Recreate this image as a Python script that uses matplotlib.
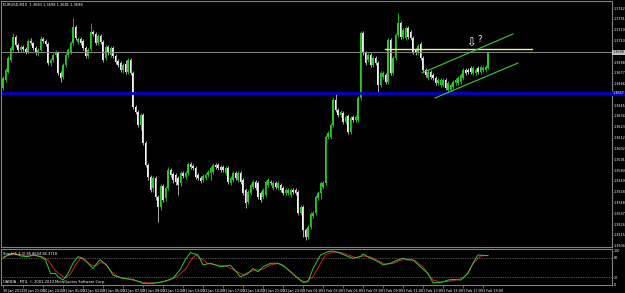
import matplotlib.pyplot as plt
import numpy as np

# EURUSD M15 candles, bar 0 = 30 Jan 2013 19:00
opens = [
    1.3662, 1.3670, 1.3678, 1.3690, 1.3700, 1.3713, 1.3705, 1.3700, 1.3703, 1.3701,
    1.3698, 1.3709, 1.3707, 1.3702, 1.3697, 1.3700, 1.3711, 1.3709, 1.3706, 1.3687,
    1.3690, 1.3695, 1.3697, 1.3677, 1.3673, 1.3685, 1.3695, 1.3698, 1.3707, 1.3723,
    1.3708, 1.3711, 1.3709, 1.3702, 1.3694, 1.3701, 1.3718, 1.3716, 1.3707, 1.3714,
    1.3708, 1.3692, 1.3703, 1.3695, 1.3702, 1.3694, 1.3689, 1.3687, 1.3680, 1.3686,
    1.3678, 1.3690, 1.3677, 1.3643, 1.3638, 1.3625, 1.3635, 1.3607, 1.3585, 1.3573,
    1.3562, 1.3572, 1.3553, 1.3543, 1.3564, 1.3552, 1.3562, 1.3580, 1.3576, 1.3575,
    1.3572, 1.3567, 1.3577, 1.3573, 1.3577, 1.3586, 1.3584, 1.3582, 1.3575, 1.3572,
    1.3570, 1.3572, 1.3575, 1.3577, 1.3578, 1.3585, 1.3585, 1.3583, 1.3583, 1.3577,
    1.3582, 1.3567, 1.3570, 1.3577, 1.3570, 1.3577, 1.3570, 1.3560, 1.3548, 1.3557,
    1.3563, 1.3568, 1.3567, 1.3557, 1.3553, 1.3555, 1.3565, 1.3568, 1.3562, 1.3567,
    1.3562, 1.3565, 1.3562, 1.3557, 1.3557, 1.3555, 1.3560, 1.3560, 1.3558, 1.3537,
    1.3543, 1.3520, 1.3513, 1.3523, 1.3534, 1.3537, 1.3552, 1.3557, 1.3563, 1.3567,
    1.3613, 1.3613, 1.3625, 1.3650, 1.3640, 1.3635, 1.3637, 1.3628, 1.3634, 1.3618,
    1.3633, 1.3630, 1.3630, 1.3652, 1.3717, 1.3697, 1.3690, 1.3695, 1.3685, 1.3692,
    1.3687, 1.3665, 1.3673, 1.3675, 1.3668, 1.3710, 1.3677, 1.3692, 1.3715, 1.3727,
    1.3713, 1.3712, 1.3722, 1.3718, 1.3712, 1.3700, 1.3697, 1.3706, 1.3692, 1.3680,
    1.3672, 1.3678, 1.3675, 1.3672, 1.3667, 1.3665, 1.3665, 1.3670, 1.3660, 1.3660,
    1.3663, 1.3667, 1.3667, 1.3668, 1.3672, 1.3680, 1.3680, 1.3682, 1.3677, 1.3677,
    1.3682, 1.3678, 1.3680, 1.3680, 1.3682,
]
highs = [
    1.3674, 1.3682, 1.3694, 1.3704, 1.3717, 1.3715, 1.3707, 1.3705, 1.3705, 1.3703,
    1.3711, 1.3712, 1.3708, 1.3704, 1.3702, 1.3714, 1.3713, 1.3711, 1.3708, 1.3692,
    1.3697, 1.3700, 1.3699, 1.3679, 1.3687, 1.3697, 1.3702, 1.3709, 1.3732, 1.3725,
    1.3713, 1.3713, 1.3711, 1.3704, 1.3702, 1.3727, 1.3720, 1.3718, 1.3716, 1.3716,
    1.3710, 1.3705, 1.3705, 1.3704, 1.3704, 1.3696, 1.3691, 1.3689, 1.3687, 1.3690,
    1.3692, 1.3692, 1.3679, 1.3645, 1.3640, 1.3637, 1.3637, 1.3609, 1.3587, 1.3575,
    1.3574, 1.3574, 1.3555, 1.3566, 1.3566, 1.3564, 1.3583, 1.3582, 1.3578, 1.3577,
    1.3574, 1.3579, 1.3579, 1.3579, 1.3588, 1.3588, 1.3586, 1.3584, 1.3577, 1.3574,
    1.3576, 1.3577, 1.3580, 1.3584, 1.3587, 1.3587, 1.3587, 1.3585, 1.3585, 1.3584,
    1.3584, 1.3574, 1.3579, 1.3579, 1.3579, 1.3579, 1.3572, 1.3562, 1.3560, 1.3567,
    1.3570, 1.3570, 1.3569, 1.3559, 1.3562, 1.3570, 1.3572, 1.3570, 1.3569, 1.3569,
    1.3569, 1.3567, 1.3564, 1.3562, 1.3562, 1.3562, 1.3562, 1.3562, 1.3560, 1.3545,
    1.3545, 1.3522, 1.3525, 1.3538, 1.3539, 1.3555, 1.3559, 1.3569, 1.3569, 1.3615,
    1.3619, 1.3627, 1.3652, 1.3658, 1.3642, 1.3640, 1.3639, 1.3635, 1.3636, 1.3634,
    1.3635, 1.3635, 1.3654, 1.3719, 1.3719, 1.3699, 1.3697, 1.3697, 1.3694, 1.3694,
    1.3689, 1.3679, 1.3679, 1.3677, 1.3712, 1.3712, 1.3694, 1.3717, 1.3737, 1.3729,
    1.3722, 1.3724, 1.3724, 1.3720, 1.3714, 1.3702, 1.3706, 1.3708, 1.3694, 1.3682,
    1.3680, 1.3680, 1.3677, 1.3674, 1.3672, 1.3672, 1.3672, 1.3672, 1.3669, 1.3667,
    1.3670, 1.3672, 1.3674, 1.3677, 1.3682, 1.3682, 1.3682, 1.3684, 1.3684, 1.3682,
    1.3684, 1.3685, 1.3684, 1.3685, 1.3698,
]
lows = [
    1.3660, 1.3668, 1.3677, 1.3688, 1.3699, 1.3703, 1.3698, 1.3698, 1.3699, 1.3696,
    1.3697, 1.3705, 1.3700, 1.3695, 1.3694, 1.3699, 1.3707, 1.3704, 1.3685, 1.3684,
    1.3688, 1.3693, 1.3675, 1.3668, 1.3671, 1.3683, 1.3693, 1.3696, 1.3705, 1.3710,
    1.3706, 1.3705, 1.3700, 1.3692, 1.3692, 1.3699, 1.3714, 1.3705, 1.3705, 1.3706,
    1.3688, 1.3690, 1.3695, 1.3693, 1.3692, 1.3686, 1.3683, 1.3678, 1.3677, 1.3676,
    1.3676, 1.3675, 1.3641, 1.3636, 1.3623, 1.3620, 1.3605, 1.3583, 1.3570, 1.3558,
    1.3558, 1.3550, 1.3528, 1.3540, 1.3548, 1.3549, 1.3560, 1.3573, 1.3567, 1.3565,
    1.3555, 1.3564, 1.3572, 1.3571, 1.3575, 1.3581, 1.3580, 1.3571, 1.3570, 1.3567,
    1.3568, 1.3570, 1.3573, 1.3570, 1.3576, 1.3581, 1.3580, 1.3578, 1.3578, 1.3575,
    1.3566, 1.3565, 1.3568, 1.3570, 1.3568, 1.3566, 1.3555, 1.3542, 1.3546, 1.3555,
    1.3561, 1.3560, 1.3551, 1.3548, 1.3551, 1.3553, 1.3563, 1.3565, 1.3560, 1.3561,
    1.3560, 1.3558, 1.3555, 1.3555, 1.3555, 1.3553, 1.3556, 1.3555, 1.3535, 1.3535,
    1.3513, 1.3510, 1.3511, 1.3521, 1.3532, 1.3535, 1.3550, 1.3551, 1.3561, 1.3565,
    1.3611, 1.3611, 1.3623, 1.3638, 1.3633, 1.3633, 1.3626, 1.3626, 1.3616, 1.3616,
    1.3628, 1.3628, 1.3628, 1.3650, 1.3695, 1.3685, 1.3688, 1.3683, 1.3683, 1.3685,
    1.3658, 1.3663, 1.3671, 1.3666, 1.3666, 1.3675, 1.3675, 1.3690, 1.3713, 1.3711,
    1.3711, 1.3710, 1.3711, 1.3710, 1.3696, 1.3695, 1.3695, 1.3690, 1.3678, 1.3673,
    1.3670, 1.3671, 1.3670, 1.3665, 1.3665, 1.3663, 1.3663, 1.3660, 1.3657, 1.3658,
    1.3661, 1.3665, 1.3665, 1.3666, 1.3670, 1.3675, 1.3676, 1.3676, 1.3675, 1.3675,
    1.3676, 1.3676, 1.3678, 1.3678, 1.3681,
]
closes = [
    1.3672, 1.3680, 1.3692, 1.3702, 1.3713, 1.3705, 1.3700, 1.3703, 1.3701, 1.3698,
    1.3709, 1.3707, 1.3702, 1.3697, 1.3700, 1.3711, 1.3709, 1.3706, 1.3687, 1.3690,
    1.3695, 1.3697, 1.3677, 1.3672, 1.3685, 1.3695, 1.3700, 1.3707, 1.3723, 1.3712,
    1.3711, 1.3707, 1.3702, 1.3694, 1.3700, 1.3718, 1.3716, 1.3707, 1.3714, 1.3708,
    1.3690, 1.3703, 1.3697, 1.3702, 1.3694, 1.3688, 1.3685, 1.3680, 1.3685, 1.3678,
    1.3690, 1.3677, 1.3643, 1.3638, 1.3625, 1.3635, 1.3607, 1.3585, 1.3573, 1.3560,
    1.3572, 1.3553, 1.3543, 1.3564, 1.3550, 1.3562, 1.3580, 1.3575, 1.3570, 1.3568,
    1.3565, 1.3577, 1.3574, 1.3577, 1.3586, 1.3583, 1.3582, 1.3573, 1.3572, 1.3569,
    1.3574, 1.3575, 1.3578, 1.3582, 1.3585, 1.3583, 1.3582, 1.3580, 1.3580, 1.3582,
    1.3568, 1.3572, 1.3577, 1.3572, 1.3577, 1.3568, 1.3557, 1.3547, 1.3558, 1.3565,
    1.3568, 1.3562, 1.3553, 1.3550, 1.3560, 1.3568, 1.3570, 1.3567, 1.3567, 1.3563,
    1.3567, 1.3560, 1.3557, 1.3560, 1.3560, 1.3560, 1.3558, 1.3557, 1.3537, 1.3543,
    1.3520, 1.3513, 1.3523, 1.3536, 1.3537, 1.3553, 1.3557, 1.3567, 1.3567, 1.3613,
    1.3617, 1.3625, 1.3650, 1.3640, 1.3635, 1.3638, 1.3628, 1.3633, 1.3618, 1.3632,
    1.3630, 1.3633, 1.3652, 1.3717, 1.3697, 1.3687, 1.3695, 1.3685, 1.3692, 1.3687,
    1.3665, 1.3677, 1.3677, 1.3668, 1.3710, 1.3677, 1.3692, 1.3715, 1.3727, 1.3713,
    1.3720, 1.3722, 1.3713, 1.3712, 1.3698, 1.3697, 1.3704, 1.3692, 1.3680, 1.3675,
    1.3678, 1.3673, 1.3672, 1.3667, 1.3670, 1.3670, 1.3670, 1.3662, 1.3667, 1.3665,
    1.3668, 1.3670, 1.3672, 1.3675, 1.3680, 1.3677, 1.3678, 1.3678, 1.3682, 1.3680,
    1.3678, 1.3683, 1.3682, 1.3683, 1.3698,
]

# Stochastic(5,3,3): main (green) and signal (red), vertices at bar numbers
stoch_main_bar = [0, 2, 4, 7, 10, 12, 15, 17, 19, 21, 22, 24, 26, 28, 30, 32, 34, 36, 38, 39,
                  42, 44, 48, 52, 56, 60, 64, 68, 71, 73, 75, 78, 80, 83, 87, 91, 95, 98, 100, 102,
                  104, 107, 110, 112, 115, 118, 120, 122, 124, 127, 130, 132, 135, 138, 140, 143, 144, 147, 150, 152,
                  155, 158, 160, 162, 164, 167, 170, 172, 175, 178, 180, 183, 186, 188, 190, 194]
stoch_main = [78, 88, 93, 85, 83, 88, 83, 73, 32, 32, 22, 12, 32, 63, 83, 78, 63, 47, 67, 73,
              52, 27, 17, 14, 2, 2, 7, 17, 45, 75, 95, 88, 58, 63, 52, 57, 22, 32, 47, 37,
              52, 63, 63, 57, 37, 17, 5, 7, 47, 88, 98, 100, 93, 83, 78, 83, 91, 78, 68, 58,
              63, 73, 78, 73, 73, 52, 32, 4, 4, 12, 14, 12, 32, 63, 88, 85.86]
stoch_sig_bar = [0, 3, 6, 9, 13, 16, 18, 21, 23, 25, 27, 29, 31, 33, 35, 37, 39, 41, 43, 46,
                 50, 54, 58, 62, 66, 70, 73, 75, 77, 79, 82, 85, 89, 93, 96, 99, 101, 104, 107, 110,
                 113, 116, 119, 121, 124, 127, 129, 132, 135, 138, 141, 144, 147, 150, 153, 156, 159, 162, 165, 168,
                 170, 172, 175, 178, 181, 184, 186, 188, 191, 194]
stoch_sig = [82, 88, 90, 85, 86, 82, 72, 40, 28, 18, 30, 58, 78, 72, 58, 55, 65, 62, 40, 22,
             15, 8, 3, 4, 10, 25, 45, 70, 88, 78, 62, 58, 55, 40, 28, 38, 42, 45, 58, 62,
             50, 30, 12, 6, 22, 62, 88, 97, 96, 88, 80, 85, 82, 70, 60, 62, 72, 75, 70, 52,
             30, 12, 6, 8, 12, 18, 35, 62, 85, 86.37]

time_bars = [0, 8, 16, 24, 32, 40, 48, 56, 64, 72, 80, 88, 96, 104, 112, 120,
             128, 136, 144, 152, 160, 168, 176, 184, 192]
time_labels = ['30 Jan 2013', '30 Jan 21:00', '30 Jan 23:00', '31 Jan 01:00', '31 Jan 03:00',
               '31 Jan 05:00', '31 Jan 07:00', '31 Jan 09:00', '31 Jan 11:00', '31 Jan 13:00',
               '31 Jan 15:00', '31 Jan 17:00', '31 Jan 19:00', '31 Jan 21:00', '31 Jan 23:00',
               '1 Feb 01:00', '1 Feb 03:00', '1 Feb 05:00', '1 Feb 07:00', '1 Feb 09:00',
               '1 Feb 11:00', '1 Feb 13:00', '1 Feb 15:00', '1 Feb 17:00', '1 Feb 19:00']

bid = 1.3698
support = 1.3657
resist = 1.3701
resist_span = [152.8, 211.6]
chan_upper = ([167.6, 204.0], [1.3677, 1.3716])
chan_lower = ([172.8, 206.0], [1.3652, 1.3687])

W, H = 625, 293
BG = 'black'
GREY = '#808080'
UP = '#22cc22'
DOWN = '#f2f2f2'
FS = 2.4

fig = plt.figure(figsize=(W / 100, H / 100), dpi=100, facecolor=BG)


def px_axes(x0, y0, x1, y1):
    return fig.add_axes([x0 / W, 1 - y1 / H, (x1 - x0) / W, (y1 - y0) / H], facecolor=BG)


def frame(ax):
    for s in ax.spines.values():
        s.set_color(GREY)
        s.set_linewidth(0.8)


# ---- price window
ax = px_axes(1, 1, 612, 247)
frame(ax)
o = np.array(opens)
c = np.array(closes)
idx = np.arange(len(o))
up = c >= o
ax.vlines(idx[up], np.array(lows)[up], np.array(highs)[up], color=UP, lw=0.6)
ax.vlines(idx[~up], np.array(lows)[~up], np.array(highs)[~up], color='#c8c8c8', lw=0.6)
body = np.maximum(np.abs(c - o), 0.00012)
ax.bar(idx[up], body[up], bottom=np.minimum(o, c)[up], width=0.62, color=UP, linewidth=0)
ax.bar(idx[~up], body[~up], bottom=np.minimum(o, c)[~up], width=0.62, color=DOWN, linewidth=0)

ax.axhline(bid, color=GREY, lw=0.8)
ax.axhline(support, color='#0000c8', lw=2.0)
ax.plot(resist_span, [resist, resist], color='#ecec9a', lw=1.0)
ax.plot(*chan_upper, color='#3ccc3c', lw=0.8)
ax.plot(*chan_lower, color='#3ccc3c', lw=0.8)
ax.text(187.2, 1.3707, '\u21e9', color='white', fontsize=8.5, ha='center', va='center')
ax.text(190.8, 1.3711, '?', color='white', fontsize=6, ha='center', va='center')

ax.set_xlim(-0.8, 243.6)
ax.set_ylim(1.3503, 1.3749)
ax.set_xticks([])
ticks = 1.37420 - 0.00108 * np.arange(23)
ticks = [t for t in ticks if abs(t - bid) > 0.0006 and abs(t - support) > 0.0006]
ax.yaxis.tick_right()
ax.set_yticks(ticks)
ax.set_yticklabels([f'{t:.4f}' for t in ticks])
ax.tick_params(axis='y', colors=GREY, labelcolor='white', labelsize=FS, length=1, width=0.5, pad=0.3)
ax.text(1.001, bid, f'{bid:.4f}', transform=ax.get_yaxis_transform(), fontsize=FS,
        color='black', va='center', ha='left',
        bbox=dict(boxstyle='square,pad=0.15', fc='#c0c0c0', ec='none'))
ax.text(1.001, support, f'{support:.4f}', transform=ax.get_yaxis_transform(), fontsize=FS,
        color='white', va='center', ha='left',
        bbox=dict(boxstyle='square,pad=0.15', fc='#0000c8', ec='none'))
ax.text(0.004, 0.992, 'EURUSD,M15  1.3683 1.3698 1.3681 1.3698', transform=ax.transAxes,
        fontsize=2.6, color='white', va='top', ha='left')

# ---- stochastic window
ax2 = px_axes(1, 249, 612, 285)
frame(ax2)
ax2.plot(stoch_sig_bar, stoch_sig, color='#d02020', lw=0.7)
ax2.plot(stoch_main_bar, stoch_main, color='#2ecc2e', lw=0.7)
for lvl in (80, 20):
    ax2.axhline(lvl, color='#a0a0a0', lw=0.5, ls=(0, (1, 1.5)))
ax2.set_xlim(-0.8, 243.6)
ax2.set_ylim(-3, 106)
ax2.yaxis.tick_right()
ax2.set_yticks([100, 80, 20, 0])
ax2.set_yticklabels(['100', '80', '20', '0'])
ax2.tick_params(axis='y', colors=GREY, labelcolor='white', labelsize=FS, length=1, width=0.5, pad=0.3)
ax2.set_xticks(time_bars)
ax2.set_xticklabels(time_labels)
ax2.tick_params(axis='x', colors=GREY, labelcolor='white', labelsize=2.4, length=2, width=0.5, pad=0.8)
for lbl in ax2.get_xticklabels():
    lbl.set_ha('left')
ax2.text(0.004, 0.93, 'Stoch(5,3,3) 85.8604 86.3718', transform=ax2.transAxes,
         fontsize=2.6, color='white', va='top', ha='left')
ax2.text(0.004, 0.04, 'OANDA - MT4, \u00a9 2001-2010 MetaQuotes Software Corp.', transform=ax2.transAxes,
         fontsize=2.6, color='white', va='bottom', ha='left')

fig.savefig('out.png', dpi=100, facecolor=BG)
